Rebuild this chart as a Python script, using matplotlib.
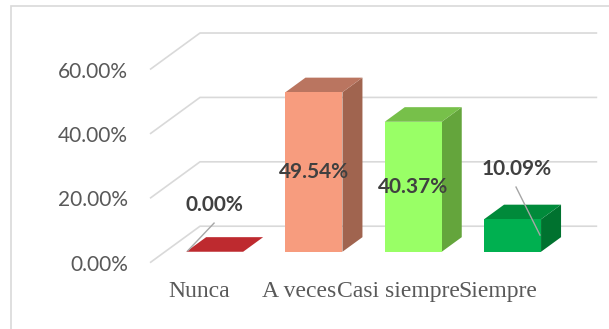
import matplotlib
matplotlib.use("Agg")
import matplotlib.pyplot as plt
from matplotlib.patches import Polygon, Rectangle
from matplotlib.ticker import PercentFormatter

categories = ["Nunca", "A veces", "Casi siempre", "Siempre"]
values = [0.00, 49.54, 40.37, 10.09]
y_ticks = [0, 20, 40, 60]

front_colors = ["#BE2A2F", "#F79C7E", "#99FF66", "#00B050"]
side_colors = ["#8A1D21", "#A0644F", "#64A53C", "#00722F"]
top_colors = ["#BE2A2F", "#BA7560", "#77C04A", "#008A3A"]

W, H, DPI = 609, 329, 100
fig = plt.figure(figsize=(W / DPI, H / DPI), dpi=DPI)

# front edge of the floor plane, in pixels
left_px, right_px = 150, 547.2
base_px, top_px = 262.7, 69.5
ax = fig.add_axes([left_px / W, 1 - base_px / H,
                   (right_px - left_px) / W, (base_px - top_px) / H])
ax.set_xlim(-0.5, 3.5)
ax.set_ylim(0, 60)
for s in ax.spines.values():
    s.set_visible(False)
ax.patch.set_visible(False)

# oblique depth vector of the floor (data units) and bar slab
DX, DY = 0.5035, 11.33
Z_FRONT, Z_BACK = 0.30, 0.70
BAR_W = 0.574
GRID = "#D9D9D9"


def proj(x, y, z):
    return (x + z * DX, y + z * DY)


# walls: diagonal on the side wall plus line on the back wall
for t in y_ticks:
    pts = [proj(-0.5, t, 0), proj(-0.5, t, 1), proj(3.5, t, 1)]
    ax.plot([p[0] for p in pts], [p[1] for p in pts], color=GRID,
            lw=1.2, clip_on=False, zorder=1, solid_capstyle="butt")

# 3-D bars
for i, v in enumerate(values):
    x0, x1 = i - BAR_W / 2, i + BAR_W / 2
    side = [proj(x1, 0, Z_FRONT), proj(x1, 0, Z_BACK),
            proj(x1, v, Z_BACK), proj(x1, v, Z_FRONT)]
    top = [proj(x0, v, Z_FRONT), proj(x1, v, Z_FRONT),
           proj(x1, v, Z_BACK), proj(x0, v, Z_BACK)]
    ax.add_patch(Polygon(side, closed=True, fc=side_colors[i], ec="none",
                         clip_on=False, zorder=3))
    ax.add_patch(Polygon(top, closed=True, fc=top_colors[i], ec="none",
                         clip_on=False, zorder=3))
    fx, fy = proj(x0, 0, Z_FRONT)
    if v > 0:
        ax.add_patch(Rectangle((fx, fy), BAR_W, v, fc=front_colors[i],
                               ec="none", clip_on=False, zorder=4))

# data labels
lab_kw = dict(ha="center", va="center", fontsize=15, fontweight="bold",
              color="#404040", family="Lato", zorder=6)
LEADER = "#A6A6A6"
for i, v in enumerate(values):
    text = f"{v:.2f}%"
    if i in (1, 2):
        cx, cy = proj(i, v / 2, Z_FRONT)
        ax.text(cx, cy, text, **lab_kw)
    elif i == 0:
        ax.text(i + 0.152, v + 17.9, text, **lab_kw)
        ax.plot([i + 0.145, i - 0.12], [v + 12.3, v + 3.7], color=LEADER,
                lw=1, clip_on=False, zorder=5)
    else:
        ax.text(i + 0.196, v + 19.0, text, **lab_kw)
        ax.plot([i + 0.186, i + 0.427], [v + 13.4, v - 1.5], color=LEADER,
                lw=1, clip_on=False, zorder=5)

# axes text
ax.set_yticks(y_ticks)
ax.yaxis.set_major_formatter(PercentFormatter(decimals=2))
ax.tick_params(axis="y", length=0, pad=16, labelsize=15, labelcolor="#595959")
for lbl in ax.get_yticklabels():
    lbl.set_family("Lato")
ax.set_xticks(range(len(categories)))
ax.set_xticklabels(categories, family="Liberation Serif")
ax.tick_params(axis="x", length=0, pad=13, labelsize=17, labelcolor="#595959")

# chart frame
fig.add_artist(Rectangle((11 / W, -0.1), 1.2, 1.1 - 6 / H, transform=fig.transFigure,
                         fill=False, ec=GRID, lw=1.2))

fig.savefig("out.png", dpi=DPI, facecolor="white")
